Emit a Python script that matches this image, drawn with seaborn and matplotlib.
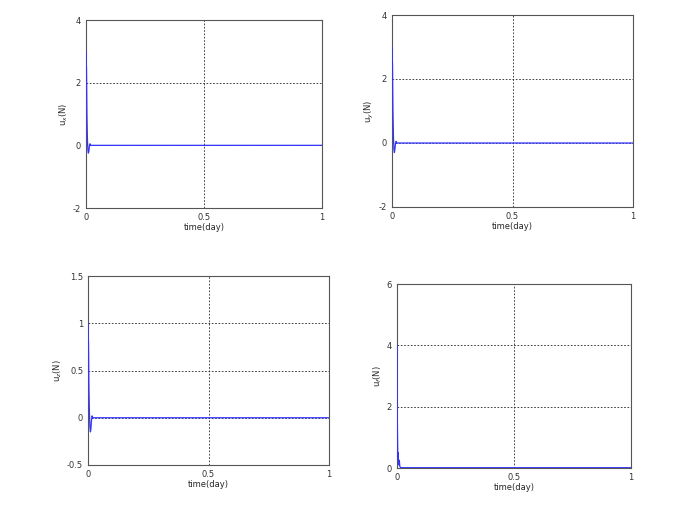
import numpy as np
import pandas as pd
import matplotlib
matplotlib.use("Agg")
import matplotlib.pyplot as plt
import seaborn as sns

# valores (tiempo en dias, fuerza en N)
t_ux = [0, 0.001, 0.002, 0.003, 0.004, 0.006, 0.008, 0.010, 0.012, 0.014, 0.017, 0.02, 0.03, 1.0]
ux = [3.0, 2.6, 2.5, 1.8, 1.0, 0.2, -0.15, -0.25, -0.2, -0.05, 0.05, 0.0, 0.0, 0.0]

t_uy = [0, 0.001, 0.002, 0.003, 0.004, 0.006, 0.008, 0.010, 0.012, 0.014, 0.017, 0.02, 0.03, 1.0]
uy = [3.0, 2.6, 2.5, 1.7, 1.0, 0.2, -0.2, -0.3, -0.2, -0.05, 0.05, 0.0, 0.0, 0.0]

t_uz = [0, 0.001, 0.002, 0.003, 0.004, 0.006, 0.008, 0.010, 0.012, 0.014, 0.017, 0.02, 0.03, 1.0]
uz = [1.0, 0.85, 0.8, 0.55, 0.3, 0.05, -0.1, -0.15, -0.12, -0.04, 0.02, 0.0, 0.0, 0.0]

t_u = [0, 0.001, 0.002, 0.003, 0.004, 0.005, 0.006, 0.008, 0.010, 0.012, 0.015, 0.02, 1.0]
u = [4.0, 2.0, 1.2, 0.6, 0.3, 0.5, 0.3, 0.1, 0.25, 0.05, 0.02, 0.01, 0.01]

paneles = [
    (t_ux, ux, r'u$_x$(N)', [-2, 0, 2, 4], ['-2', '0', '2', '4'], (-2, 4),
     [86/685, (517-208)/517, 236/685, 188/517]),
    (t_uy, uy, r'u$_y$(N)', [-2, 0, 2, 4], ['-2', '0', '2', '4'], (-2, 4),
     [392/685, (517-207)/517, 241/685, 192/517]),
    (t_uz, uz, r'u$_z$(N)', [-0.5, 0, 0.5, 1, 1.5], ['-0.5', '0', '0.5', '1', '1.5'], (-0.5, 1.5),
     [88/685, (517-465)/517, 241/685, 189/517]),
    (t_u, u, r'u$_f$(N)', [0, 2, 4, 6], ['0', '2', '4', '6'], (0, 6),
     [397/685, (517-468)/517, 234/685, 184/517]),
]

sns.set_style("white")
plt.rcParams['font.family'] = ['DejaVu Sans']
fig = plt.figure(figsize=(6.85, 5.17), dpi=100)

for t, y, etiqueta, yt, ytl, ylim, pos in paneles:
    ax = fig.add_axes(pos)
    df = pd.DataFrame({'t': t, 'y': y})
    sns.lineplot(data=df, x='t', y='y', ax=ax, color='#3333ff', linewidth=0.9, zorder=3)
    ax.set_xlim(0, 1)
    ax.set_ylim(*ylim)
    ax.set_xticks([0, 0.5, 1])
    ax.set_xticklabels(['0', '0.5', '1'])
    ax.set_yticks(yt)
    ax.set_yticklabels(ytl)
    ax.tick_params(direction='in', length=3, labelsize=6, colors='#333333', width=0.6)
    ax.grid(True, linestyle=(0, (2, 2)), color='#222222', linewidth=0.6)
    for s in ax.spines.values():
        s.set_color('#555555')
        s.set_linewidth(0.8)
    ax.set_xlabel('time(day)', fontsize=6, labelpad=1)
    ax.set_ylabel(etiqueta, fontsize=6, labelpad=2)

fig.savefig('out.png', dpi=100, facecolor='white')
